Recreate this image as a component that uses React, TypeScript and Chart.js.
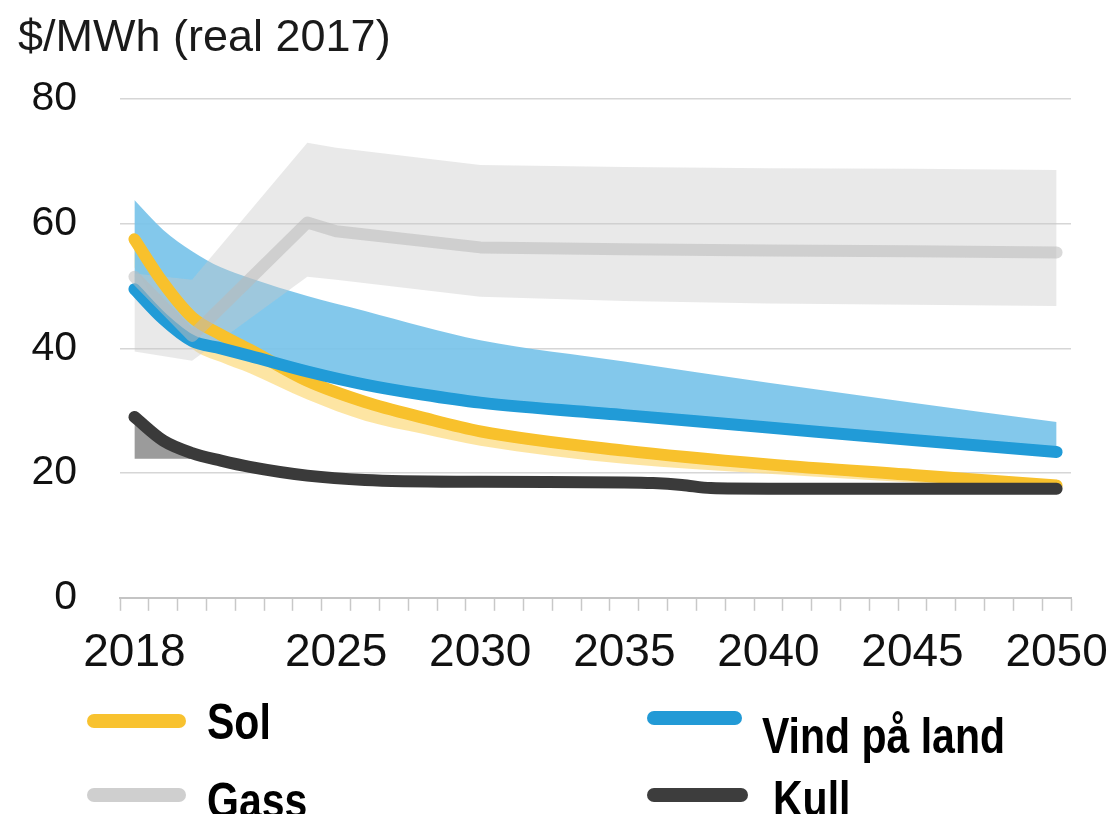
import { useEffect, useRef } from "react";
import { Chart, registerables } from "chart.js";

Chart.register(...registerables);

// ---------- DATA ----------
const chartTitle = "$/MWh (real 2017)";
const xTickLabels = ["2018", "2025", "2030", "2035", "2040", "2045", "2050"];
const yTickValues = [0, 20, 40, 60, 80];

const solarYears = [2018, 2019, 2020, 2021, 2022, 2024, 2026, 2028, 2030, 2035, 2040, 2045, 2050];
const solarMid = [57.5, 50.5, 45.0, 42.2, 39.8, 34.8, 31.4, 28.9, 26.7, 23.6, 21.4, 19.7, 18.0];
const solarLow = [53.0, 45.5, 40.0, 37.8, 36.0, 31.8, 28.4, 26.3, 24.4, 21.5, 19.9, 18.5, 17.3];

const windYears = [2018, 2019, 2020, 2021, 2022, 2024, 2026, 2028, 2030, 2035, 2040, 2045, 2050];
const windMid = [49.5, 44.7, 41.2, 40.0, 38.8, 36.3, 34.2, 32.6, 31.3, 29.3, 27.3, 25.3, 23.4];
const windHigh = [63.8, 59.0, 55.6, 53.0, 51.3, 48.4, 46.0, 43.5, 41.3, 37.9, 34.5, 31.3, 28.2];

const gasYears = [2018, 2020, 2024, 2025, 2030, 2035, 2040, 2045, 2050];
const gasMid = [51.5, 42.0, 60.2, 58.8, 56.2, 55.9, 55.7, 55.6, 55.4];
const gasLow = [39.5, 38.0, 51.5, 51.0, 48.3, 47.6, 47.2, 47.0, 46.8];
const gasHigh = [52.0, 51.0, 73.0, 72.2, 69.4, 69.1, 68.9, 68.8, 68.6];

const coalYears = [2018, 2019, 2020, 2021, 2022, 2024, 2026, 2030, 2035, 2036, 2037, 2038, 2040, 2045, 2050];
const coalMid = [29.0, 25.2, 23.2, 22.0, 21.0, 19.6, 18.9, 18.6, 18.5, 18.4, 18.1, 17.6, 17.5, 17.5, 17.5];
const coalBandYears = [2018, 2019, 2020];
const coalBandLow = [22.3, 22.3, 22.3];
const coalBandHigh = [29.0, 25.2, 23.2];

const legendItems = [
  { label: "Sol", color: "#F8C22F" },
  { label: "Vind på land", color: "#229AD6" },
  { label: "Gass", color: "#CFCFCF" },
  { label: "Kull", color: "#3D3D3D" },
];

// ---------- STYLE ----------
const SOLAR_LINE = "#F8C12C";
const SOLAR_BAND = "rgba(252, 222, 140, 0.8)";
const WIND_LINE = "#219BD7";
const WIND_BAND = "rgba(120, 195, 233, 0.92)";
const GAS_LINE = "rgba(185, 185, 185, 0.55)";
const GAS_BAND = "rgba(200, 200, 200, 0.40)";
const COAL_LINE = "#3A3A3A";
const COAL_BAND = "#9B9B9B";
const FONT = "'Liberation Sans', Arial, Helvetica, sans-serif";

const pts = (xs: number[], ys: number[]) => xs.map((x, i) => ({ x, y: ys[i] }));

const edge = (xs: number[], ys: number[], order: number, fill: any, bg: string, smooth: boolean) => ({
  data: pts(xs, ys),
  order,
  fill,
  backgroundColor: bg,
  borderWidth: 0,
  borderColor: "transparent",
  pointRadius: 0,
  tension: 0,
  cubicInterpolationMode: smooth ? "monotone" : "default",
});

const line = (xs: number[], ys: number[], order: number, color: string, smooth: boolean) => ({
  data: pts(xs, ys),
  order,
  fill: false,
  borderColor: color,
  backgroundColor: color,
  borderWidth: 12,
  borderCapStyle: "round",
  borderJoinStyle: "round",
  pointRadius: 0,
  tension: 0,
  cubicInterpolationMode: smooth ? "monotone" : "default",
});

export default function App() {
  const ref = useRef<HTMLCanvasElement>(null);

  useEffect(() => {
    if (!ref.current) return;
    const chart = new Chart(ref.current, {
      type: "line",
      data: {
        datasets: [
          edge(solarYears, solarLow, 20, false, "transparent", true),
          edge(solarYears, solarMid, 19, "-1", SOLAR_BAND, true),
          edge(windYears, windMid, 18, false, "transparent", true),
          edge(windYears, windHigh, 17, "-1", WIND_BAND, true),
          edge(gasYears, gasLow, 16, false, "transparent", false),
          edge(gasYears, gasHigh, 15, "-1", GAS_BAND, false),
          edge(coalBandYears, coalBandLow, 14, false, "transparent", true),
          edge(coalBandYears, coalBandHigh, 13, "-1", COAL_BAND, true),
          line(solarYears, solarMid, 5, SOLAR_LINE, true),
          line(windYears, windMid, 4, WIND_LINE, true),
          line(coalYears, coalMid, 3, COAL_LINE, true),
          line(gasYears, gasMid, 2, GAS_LINE, false),
        ] as any,
      },
      options: {
        animation: false,
        responsive: true,
        maintainAspectRatio: false,
        layout: { padding: { left: 18, right: 39, top: 0, bottom: 14 } },
        plugins: {
          legend: { display: false },
          tooltip: { enabled: false },
          title: {
            display: true,
            text: chartTitle,
            align: "start",
            color: "#1a1a1a",
            font: { family: FONT, size: 45, weight: "normal" as any },
            padding: { top: 12, bottom: 33 },
          },
        },
        scales: {
          x: {
            type: "linear",
            min: 2017.5,
            max: 2050.5,
            afterBuildTicks: (scale: any) => {
              const t = [];
              for (let v = 2017.5; v <= 2050.5; v += 1) t.push({ value: v });
              scale.ticks = t;
            },
            border: { display: true, color: "#c4c4c4", width: 2 },
            grid: {
              drawOnChartArea: false,
              drawTicks: true,
              tickLength: 13,
              tickWidth: 1.5,
              tickColor: "#c8c8c8",
            },
            ticks: {
              autoSkip: false,
              maxRotation: 0,
              minRotation: 0,
              padding: 15,
              labelOffset: 14.4,
              color: "#111",
              font: { family: FONT, size: 46 },
              callback: (v: any) => {
                const s = String(Math.round(Number(v) + 0.5));
                return xTickLabels.includes(s) && Number(v) < 2050 ? s : "";
              },
            },
          },
          y: {
            min: 0,
            max: 80,
            afterBuildTicks: (scale: any) => {
              scale.ticks = yTickValues.map((v) => ({ value: v }));
            },
            afterFit: (scale: any) => {
              scale.width = 102;
            },
            border: { display: false },
            grid: {
              drawTicks: false,
              lineWidth: 1.5,
              color: (ctx: any) => (ctx.tick && ctx.tick.value === 0 ? "rgba(0,0,0,0)" : "#d6d6d6"),
            },
            ticks: {
              padding: 43,
              color: "#111",
              font: { family: FONT, size: 41 },
            },
          },
        },
      },
    });
    return () => chart.destroy();
  }, []);

  const sw = [
    { left: 87, top: 714, width: 99 },
    { left: 647, top: 711, width: 95 },
    { left: 87, top: 788, width: 99 },
    { left: 647, top: 788, width: 101 },
  ];
  const tx = [
    { left: 207, top: 697 },
    { left: 762, top: 711 },
    { left: 207, top: 776 },
    { left: 773, top: 774 },
  ];

  return (
    <div
      style={{
        position: "absolute",
        left: 0,
        top: 0,
        width: 1110,
        height: 814,
        overflow: "hidden",
        background: "#fff",
      }}
    >
      <div style={{ position: "absolute", left: 0, top: 0, width: 1110, height: 710 }}>
        <canvas ref={ref} />
      </div>
      {legendItems.map((it, i) => (
        <div key={it.label}>
          <div
            style={{
              position: "absolute",
              left: sw[i].left,
              top: sw[i].top,
              width: sw[i].width,
              height: 14,
              borderRadius: 7,
              background: it.color,
            }}
          />
          <div
            style={{
              position: "absolute",
              left: tx[i].left,
              top: tx[i].top,
              fontFamily: FONT,
              fontWeight: "bold",
              fontSize: 50,
              lineHeight: "50px",
              color: "#000",
              whiteSpace: "nowrap",
              transform: "scaleX(0.82)",
              transformOrigin: "left top",
            }}
          >
            {it.label}
          </div>
        </div>
      ))}
    </div>
  );
}
